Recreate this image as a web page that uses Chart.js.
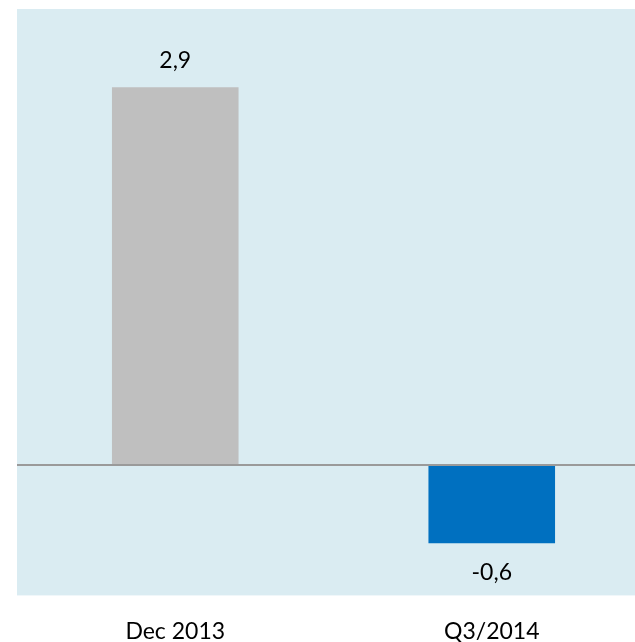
<!DOCTYPE html>
<html>
<head>
<meta charset="utf-8">
<script src="https://cdn.jsdelivr.net/npm/chart.js@4"></script>
<style>
  html, body { margin: 0; padding: 0; background: #fff; overflow: hidden; }
  #wrap { width: 650px; height: 642px; }
</style>
</head>
<body>
<div id="wrap"><canvas id="chart" width="650" height="642"></canvas></div>
<script>
const categories = ['Dec 2013', 'Q3/2014'];
const values = [2.9, -0.6];
const valueLabels = ['2,9', '-0,6'];
const barColors = ['#BFBFBF', '#0070C0'];

// light blue plot panel behind the bars
const panelBg = {
  id: 'panelBg',
  beforeDraw(chart) {
    const { ctx, chartArea: a } = chart;
    ctx.save();
    ctx.fillStyle = '#DAECF2';
    ctx.fillRect(a.left, a.top, a.right - a.left, a.bottom - a.top);
    ctx.restore();
  }
};

// value text above positive bars, below negative ones
const barValues = {
  id: 'barValues',
  afterDatasetsDraw(chart) {
    const { ctx } = chart;
    const meta = chart.getDatasetMeta(0);
    ctx.save();
    ctx.font = '23px Lato';
    ctx.fillStyle = '#000';
    ctx.textAlign = 'center';
    ctx.textBaseline = 'middle';
    meta.data.forEach((bar, i) => {
      const y = values[i] >= 0 ? bar.y - 27 : bar.y + 29;
      ctx.fillText(valueLabels[i], bar.x, y);
    });
    ctx.restore();
  }
};

new Chart(document.getElementById('chart'), {
  type: 'bar',
  data: {
    labels: categories,
    datasets: [{
      data: values,
      backgroundColor: barColors,
      categoryPercentage: 0.8,
      barPercentage: 0.5
    }]
  },
  options: {
    responsive: false,
    animation: false,
    layout: { padding: { left: 17, top: 9, right: 0, bottom: -17 } },
    plugins: { legend: { display: false }, tooltip: { enabled: false } },
    scales: {
      x: {
        grid: { display: false },
        border: { display: false },
        ticks: { color: '#000', font: { family: 'Lato', size: 23 }, padding: 14 }
      },
      y: {
        min: -1,
        max: 3.5,
        ticks: { display: false, stepSize: 0.5 },
        border: { display: false },
        grid: {
          drawTicks: false,
          lineWidth: 2,
          color: (c) => (c.tick && c.tick.value === 0 ? '#9A9A9A' : 'transparent')
        }
      }
    }
  },
  plugins: [panelBg, barValues]
});
</script>
</body>
</html>
